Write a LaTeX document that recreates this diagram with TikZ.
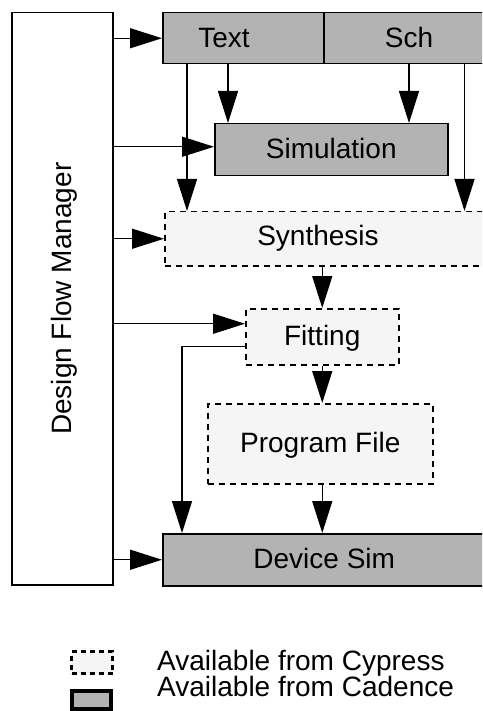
\documentclass[tikz,border=0pt]{standalone}
\usepackage{fontspec}
\setmainfont{Liberation Sans}
\usetikzlibrary{positioning}
\usetikzlibrary{arrows.meta}
\definecolor{cadgray}{RGB}{179,179,179}
\definecolor{cyplight}{RGB}{245,245,245}
\tikzset{
  cadbox/.style={draw, fill=cadgray, line width=1.5pt, inner sep=0pt, anchor=north west},
  cypbox/.style={draw, fill=cyplight, line width=1.5pt, dash pattern=on 6pt off 5pt, inner sep=0pt, anchor=north west},
  lbl/.style={font=\fontsize{28}{34}\selectfont, text height=20pt, text depth=2pt},
  flow/.style={line width=1.4pt, -{Triangle[length=32pt, width=20pt]}},
}

\begin{document}
\begin{tikzpicture}[x=1pt, y=-1pt]
	\useasboundingbox (0,0) rectangle (482,711);
	\clip (0,0) rectangle (482,711);
	% manager column
	\node[draw, line width=1.5pt, minimum width=101pt, minimum height=572pt, anchor=north west] (dfm) at (11,12) {};
	\node[lbl, rotate=90] (dfmlbl) at (dfm.center) {Design Flow Manager};
	% tool boxes
	\node[cadbox, minimum width=332pt, minimum height=51pt] (entry) at (162,12) {};
	\draw[line width=1.5pt] ([xshift=162pt]entry.north west) -- ([xshift=162pt]entry.south west);
	\node[lbl] (txt) at (224,39) {Text};
	\node[lbl] (sch) at (409,39) {Sch};
	\node[cadbox, lbl, minimum width=233pt, minimum height=52pt] (sim) at (214,123) {Simulation};
	\node[cypbox, minimum width=330pt, minimum height=54pt] (synth) at (164,211) {};
	\node[lbl] (synthlbl) at (318,236) {Synthesis};
	\node[cypbox, lbl, minimum width=153pt, minimum height=56pt] (fit) at (245,308) {Fitting};
	\node[cypbox, lbl, minimum width=225pt, minimum height=80pt] (prog) at (207,403) {Program File};
	\node[cadbox, lbl, minimum width=323pt, minimum height=52pt] (dev) at (162,533) {Device Sim};
	% flow
	\draw[flow] ([xshift=25pt]entry.south west) -- ([xshift=25pt]entry.south west |- synth.north);
	\draw[flow] ([xshift=-31pt]entry.south east) -- ([xshift=-31pt]entry.south east |- synth.north);
	\draw[flow] ([xshift=4pt]txt.center |- entry.south) -- ([xshift=4pt]txt.center |- sim.north);
	\draw[flow] (sch.center |- entry.south) -- (sch.center |- sim.north);
	\draw[flow] (dfm.east |- entry.west) -- (entry.west);
	\draw[flow] ([yshift=3pt]sim.west -| dfm.east) -- ([yshift=3pt]sim.west);
	\draw[flow] (dfm.east |- synth.west) -- (synth.west);
	\draw[flow] ([yshift=13pt]fit.west -| dfm.east) -- ([yshift=13pt]fit.west);
	\draw[flow] (dev.west -| dfm.east) -- (dev.west);
	\draw[flow] (fit.north |- synth.south) -- (fit.north);
	\draw[flow] (fit.south) -- (fit.south |- prog.north);
	\draw[flow] (fit.south |- prog.south) -- (fit.south |- dev.north);
	\draw[flow] ([yshift=-10pt]fit.west) -| ([xshift=20pt]dev.north west);
	% legend
	\node[cypbox, line width=3pt, dash pattern=on 5pt off 4pt, minimum width=41pt, minimum height=22pt] (cypkey) at (70,650) {};
	\node[cadbox, line width=3.5pt, minimum width=39pt, minimum height=18pt] (cadkey) at (70,689) {};
	\node[font=\fontsize{28}{34}\selectfont, anchor=base west, inner sep=0pt] (cyptext) at (157,670) {Available from Cypress};
	\node[font=\fontsize{28}{34}\selectfont, anchor=base west, inner sep=0pt] (cadtext) at (157,696) {Available from Cadence};
\end{tikzpicture}
\end{document}
